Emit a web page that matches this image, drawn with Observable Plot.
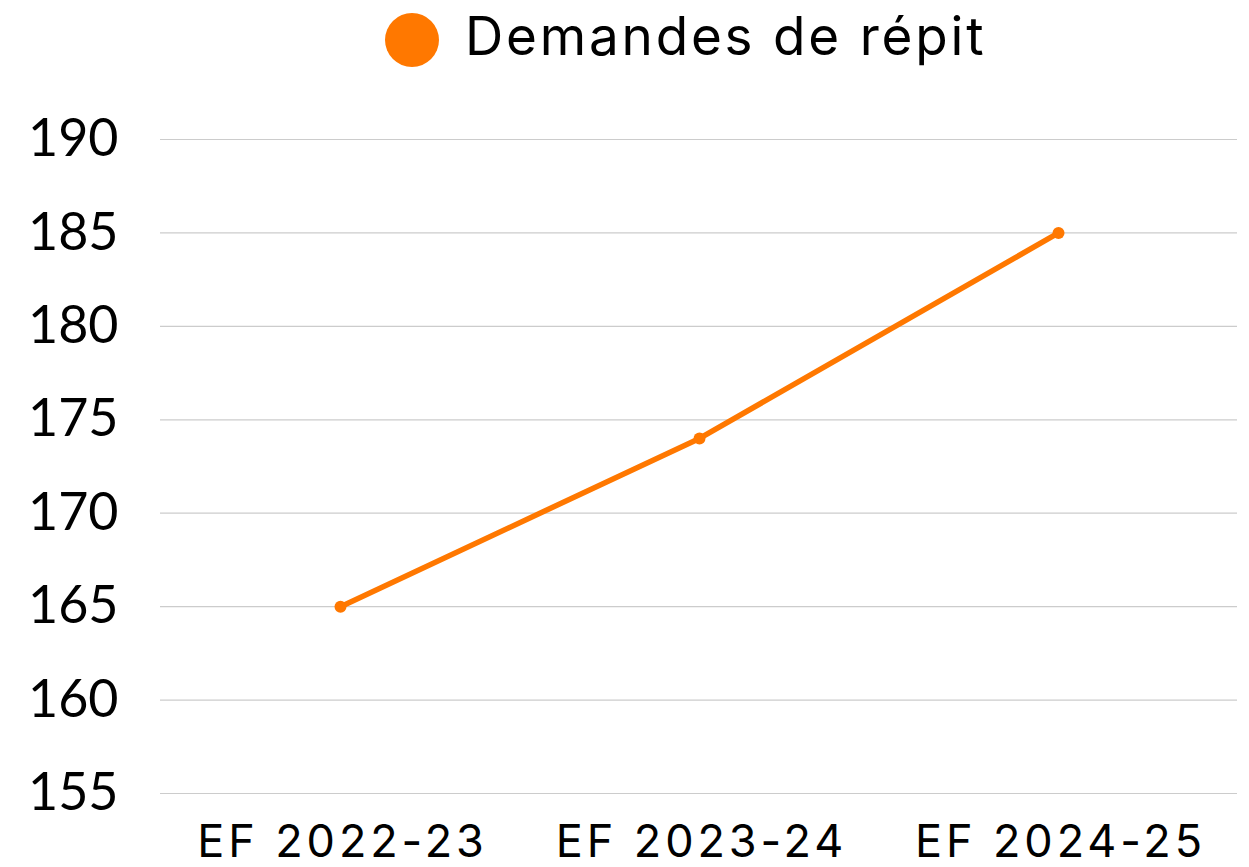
<!DOCTYPE html>
<html>
<head>
<meta charset="utf-8">
<script src="https://cdn.jsdelivr.net/npm/d3@7"></script>
<script src="https://cdn.jsdelivr.net/npm/@observablehq/plot@0.6"></script>
<style>
  html, body { margin: 0; padding: 0; background: #fff; }
  body { width: 1249px; height: 867px; overflow: hidden; font-family: Inter, "Open Sans", sans-serif; }
  #legend { position: relative; height: 80px; }
  #legend .sw { position: absolute; left: 385px; top: 13px; width: 54px; height: 54px; border-radius: 50%; background: #ff7800; }
  #legend .lb { position: absolute; left: 465px; top: -4px; line-height: 80px; font-size: 53px; letter-spacing: 2.8px; color: #000; white-space: nowrap; }
  .xax text { letter-spacing: 3.9px; }
  .yax text { font-family: Lato, "Open Sans", sans-serif; }
</style>
</head>
<body>
<div id="legend"><span class="sw"></span><span class="lb">Demandes de répit</span></div>
<div id="chart"></div>
<script>
const categories = ["EF 2022-23", "EF 2023-24", "EF 2024-25"];
const values = [165, 174, 185];
const yTicks = [155, 160, 165, 170, 175, 180, 185, 190];
const seriesName = "Demandes de répit";
const color = "#ff7800";

const data = categories.map((c, i) => ({ cat: c, value: values[i], series: seriesName }));

const chart = Plot.plot({
  width: 1249,
  height: 787,
  marginTop: 59,
  marginBottom: 74,
  marginLeft: 160,
  marginRight: 12,
  style: { fontFamily: "Inter, 'Open Sans', sans-serif", color: "#000", background: "#fff" },
  x: { type: "point", domain: categories, padding: 0.5, label: null },
  y: { domain: [155, 190], ticks: yTicks, label: null },
  marks: [
    Plot.ruleY(yTicks, { stroke: "#cccccc", strokeWidth: 1.2 }),
    Plot.axisY({ ticks: yTicks, tickSize: 0, tickPadding: 42, fontSize: 52, label: null, tickFormat: d => String(d), className: "yax" }),
    Plot.axisX({ tickSize: 0, tickPadding: 32, fontSize: 45, label: null, dx: 2, className: "xax" }),
    Plot.line(data, { x: "cat", y: "value", stroke: color, strokeWidth: 5.5 }),
    Plot.dot(data, { x: "cat", y: "value", r: 6, fill: color })
  ]
});
document.getElementById("chart").appendChild(chart);
</script>
</body>
</html>
